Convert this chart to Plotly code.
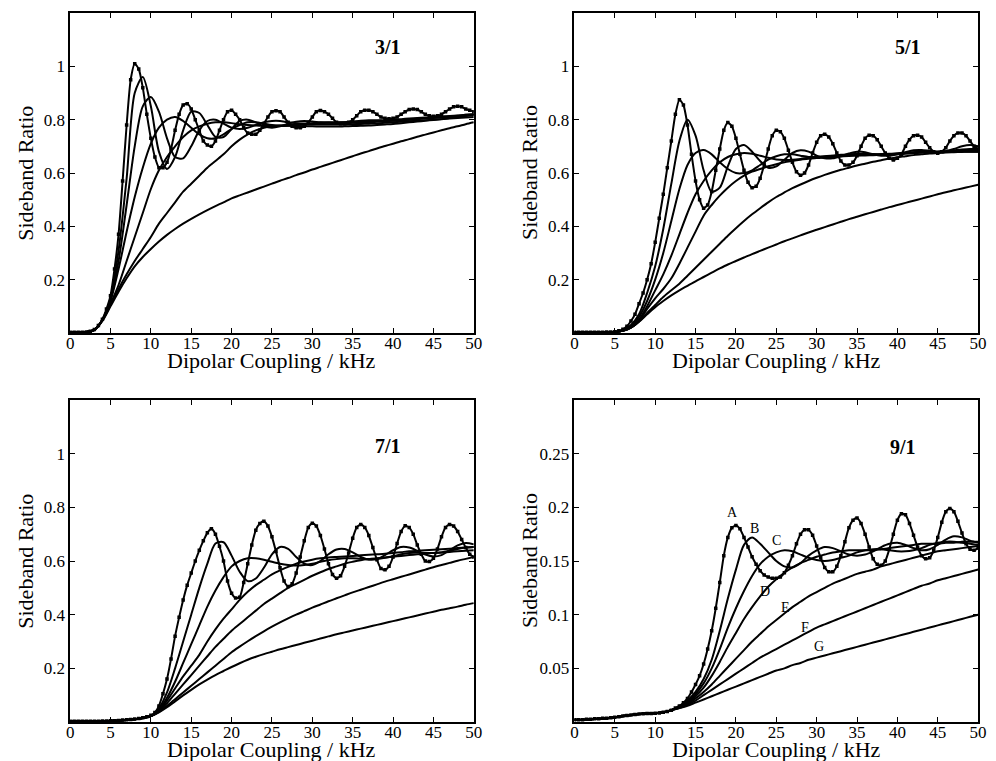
import plotly.graph_objects as go

# ---------------- data ----------------
KHZ = list(range(51))                      # 1 kHz grid for curves B-G
KHZ_HALF = [k / 2 for k in range(101)]     # 0.5 kHz grid for curve A (with markers)
X_TICKS = [0, 5, 10, 15, 20, 25, 30, 35, 40, 45, 50]
CURVE_NAMES = ["A", "B", "C", "D", "E", "F", "G"]

# ---- 3/1 ----
A31 = [0.003, 0.003, 0.003, 0.003, 0.004, 0.007, 0.013, 0.028, 0.052, 0.09,
       0.14, 0.24, 0.37, 0.57, 0.78, 0.95, 1.01, 0.99, 0.92, 0.82,
       0.73, 0.66, 0.62, 0.62, 0.64, 0.69, 0.76, 0.82, 0.855, 0.86,
       0.84, 0.80, 0.76, 0.72, 0.705, 0.70, 0.72, 0.76, 0.80, 0.83,
       0.835, 0.82, 0.80, 0.77, 0.75, 0.745, 0.745, 0.76, 0.785, 0.81,
       0.83, 0.833, 0.83, 0.81, 0.79, 0.775, 0.77, 0.77, 0.775, 0.79,
       0.81, 0.83, 0.834, 0.83, 0.82, 0.805, 0.79, 0.785, 0.785, 0.79,
       0.80, 0.815, 0.83, 0.835, 0.835, 0.83, 0.82, 0.81, 0.805, 0.803,
       0.805, 0.81, 0.82, 0.83, 0.838, 0.84, 0.838, 0.83, 0.82, 0.815,
       0.813, 0.815, 0.82, 0.83, 0.84, 0.848, 0.85, 0.848, 0.84, 0.835,
       0.83]
B31 = [0.003, 0.003, 0.004, 0.012, 0.05, 0.13, 0.31, 0.58, 0.90, 0.96,
       0.85, 0.68, 0.615, 0.66, 0.76, 0.83, 0.825, 0.78, 0.735, 0.735,
       0.765, 0.795, 0.80, 0.79, 0.775, 0.77, 0.775, 0.785, 0.792, 0.795,
       0.793, 0.79, 0.788, 0.788, 0.79, 0.793, 0.796, 0.798, 0.798, 0.797,
       0.797, 0.798, 0.80, 0.803, 0.806, 0.808, 0.81, 0.812, 0.815, 0.818,
       0.82]
C31 = [0.003, 0.003, 0.004, 0.012, 0.05, 0.125, 0.27, 0.48, 0.70, 0.85,
       0.885, 0.83, 0.73, 0.66, 0.655, 0.70, 0.76, 0.795, 0.80, 0.785,
       0.77, 0.765, 0.77, 0.78, 0.79, 0.795, 0.795, 0.79, 0.787, 0.786,
       0.787, 0.789, 0.79, 0.79, 0.79, 0.79, 0.791, 0.793, 0.795, 0.797,
       0.80, 0.802, 0.804, 0.806, 0.808, 0.81, 0.812, 0.814, 0.816, 0.818,
       0.82]
D31 = [0.003, 0.003, 0.004, 0.012, 0.05, 0.12, 0.24, 0.38, 0.51, 0.62,
       0.71, 0.77, 0.80, 0.81, 0.795, 0.77, 0.745, 0.73, 0.73, 0.745,
       0.765, 0.78, 0.79, 0.79, 0.785, 0.78, 0.777, 0.777, 0.779, 0.782,
       0.785, 0.787, 0.788, 0.788, 0.788, 0.788, 0.789, 0.79, 0.792, 0.794,
       0.796, 0.798, 0.80, 0.802, 0.804, 0.806, 0.808, 0.81, 0.812, 0.815,
       0.818]
E31 = [0.003, 0.003, 0.004, 0.012, 0.048, 0.11, 0.18, 0.27, 0.36, 0.45,
       0.54, 0.61, 0.66, 0.70, 0.735, 0.76, 0.775, 0.785, 0.79, 0.79,
       0.787, 0.783, 0.78, 0.778, 0.777, 0.777, 0.777, 0.777, 0.776, 0.775,
       0.775, 0.774, 0.774, 0.774, 0.775, 0.776, 0.777, 0.778, 0.78, 0.782,
       0.784, 0.787, 0.79, 0.793, 0.796, 0.799, 0.802, 0.806, 0.81, 0.814,
       0.818]
F31 = [0.003, 0.003, 0.004, 0.012, 0.047, 0.105, 0.165, 0.22, 0.27, 0.315,
       0.36, 0.41, 0.45, 0.49, 0.53, 0.56, 0.59, 0.62, 0.645, 0.67,
       0.70, 0.725, 0.745, 0.76, 0.77, 0.775, 0.778, 0.78, 0.781, 0.782,
       0.782, 0.782, 0.782, 0.782, 0.782, 0.783, 0.784, 0.785, 0.786, 0.788,
       0.79, 0.792, 0.794, 0.796, 0.798, 0.80, 0.802, 0.804, 0.806, 0.808,
       0.81]
G31 = [0.003, 0.003, 0.004, 0.011, 0.045, 0.10, 0.155, 0.205, 0.25, 0.285,
       0.315, 0.343, 0.368, 0.39, 0.41, 0.428, 0.445, 0.461, 0.476, 0.49,
       0.505, 0.516, 0.527, 0.538, 0.549, 0.56, 0.571, 0.581, 0.592, 0.602,
       0.613, 0.623, 0.633, 0.643, 0.653, 0.663, 0.673, 0.682, 0.692, 0.701,
       0.71, 0.719, 0.727, 0.736, 0.744, 0.752, 0.76, 0.768, 0.775, 0.783,
       0.79]

# ---- 5/1 ----
A51 = [0.003, 0.003, 0.003, 0.003, 0.003, 0.003, 0.003, 0.003, 0.004, 0.004,
       0.005, 0.008, 0.014, 0.025, 0.045, 0.07, 0.11, 0.15, 0.20, 0.26,
       0.34, 0.43, 0.52, 0.62, 0.72, 0.82, 0.875, 0.855, 0.78, 0.67,
       0.57, 0.50, 0.468, 0.48, 0.53, 0.61, 0.69, 0.76, 0.789, 0.775,
       0.73, 0.67, 0.61, 0.565, 0.545, 0.55, 0.58, 0.63, 0.69, 0.74,
       0.76, 0.755, 0.73, 0.685, 0.64, 0.605, 0.592, 0.60, 0.63, 0.675,
       0.715, 0.74, 0.745, 0.735, 0.71, 0.675, 0.645, 0.63, 0.63, 0.64,
       0.665, 0.70, 0.73, 0.742, 0.74, 0.725, 0.70, 0.675, 0.655, 0.649,
       0.655, 0.67, 0.70, 0.725, 0.74, 0.742, 0.735, 0.715, 0.695, 0.68,
       0.674, 0.68, 0.695, 0.72, 0.74, 0.75, 0.75, 0.74, 0.72, 0.70,
       0.69]
B51 = [0.003, 0.003, 0.003, 0.003, 0.003, 0.004, 0.01, 0.03, 0.07, 0.15,
       0.25, 0.39, 0.56, 0.72, 0.80, 0.74, 0.61, 0.53, 0.545, 0.625,
       0.69, 0.705, 0.68, 0.645, 0.62, 0.625, 0.65, 0.675, 0.685, 0.68,
       0.665, 0.655, 0.655, 0.663, 0.673, 0.68, 0.678, 0.67, 0.665, 0.665,
       0.67, 0.678, 0.685, 0.686, 0.683, 0.68, 0.682, 0.69, 0.70, 0.705,
       0.70]
C51 = [0.003, 0.003, 0.003, 0.003, 0.003, 0.004, 0.009, 0.025, 0.06, 0.12,
       0.20, 0.30, 0.42, 0.54, 0.63, 0.675, 0.686, 0.67, 0.64, 0.615,
       0.60, 0.60, 0.61, 0.63, 0.65, 0.663, 0.67, 0.67, 0.665, 0.66,
       0.66, 0.662, 0.665, 0.668, 0.67, 0.672, 0.672, 0.671, 0.67, 0.67,
       0.672, 0.675, 0.678, 0.68, 0.68, 0.68, 0.682, 0.685, 0.688, 0.69,
       0.69]
D51 = [0.003, 0.003, 0.003, 0.003, 0.003, 0.004, 0.008, 0.022, 0.05, 0.10,
       0.16, 0.22, 0.29, 0.37, 0.45, 0.52, 0.57, 0.61, 0.64, 0.66,
       0.67, 0.675, 0.672, 0.665, 0.657, 0.651, 0.649, 0.65, 0.653, 0.657,
       0.66, 0.663, 0.665, 0.667, 0.668, 0.669, 0.67, 0.67, 0.671, 0.672,
       0.674, 0.676, 0.678, 0.68, 0.68, 0.68, 0.681, 0.682, 0.683, 0.684,
       0.685]
E51 = [0.003, 0.003, 0.003, 0.003, 0.003, 0.004, 0.008, 0.02, 0.045, 0.09,
       0.13, 0.165, 0.205, 0.26, 0.32, 0.38, 0.44, 0.48, 0.515, 0.545,
       0.57, 0.59, 0.605, 0.615, 0.625, 0.633, 0.64, 0.645, 0.65, 0.653,
       0.656, 0.658, 0.66, 0.662, 0.664, 0.665, 0.666, 0.667, 0.668, 0.669,
       0.67, 0.672, 0.674, 0.676, 0.678, 0.679, 0.68, 0.68, 0.68, 0.68,
       0.68]
F51 = [0.003, 0.003, 0.003, 0.003, 0.003, 0.004, 0.008, 0.02, 0.043, 0.075,
       0.105, 0.135, 0.16, 0.185, 0.215, 0.245, 0.275, 0.305, 0.335, 0.365,
       0.393, 0.42, 0.445, 0.468, 0.49, 0.51, 0.527, 0.543, 0.557, 0.57,
       0.582, 0.593, 0.603, 0.612, 0.62, 0.628, 0.635, 0.642, 0.648, 0.654,
       0.659, 0.663, 0.667, 0.67, 0.673, 0.675, 0.677, 0.678, 0.679, 0.68,
       0.68]
G51 = [0.003, 0.003, 0.003, 0.003, 0.003, 0.004, 0.008, 0.02, 0.042, 0.07,
       0.097, 0.12, 0.141, 0.16, 0.177, 0.194, 0.21, 0.226, 0.242, 0.257,
       0.27, 0.283, 0.296, 0.308, 0.32, 0.332, 0.344, 0.355, 0.366, 0.377,
       0.387, 0.397, 0.407, 0.417, 0.427, 0.436, 0.445, 0.454, 0.463, 0.472,
       0.48, 0.488, 0.496, 0.504, 0.512, 0.52, 0.528, 0.535, 0.542, 0.549,
       0.556]

# ---- 7/1 ----
A71 = [0.003, 0.003, 0.003, 0.003, 0.003, 0.003, 0.003, 0.003, 0.004, 0.004,
       0.005, 0.005, 0.006, 0.007, 0.008, 0.009, 0.011, 0.013, 0.016, 0.02,
       0.025, 0.035, 0.06, 0.105, 0.16, 0.235, 0.32, 0.39, 0.455, 0.51,
       0.555, 0.60, 0.64, 0.675, 0.705, 0.72, 0.70, 0.655, 0.60, 0.525,
       0.48, 0.462, 0.465, 0.52, 0.59, 0.66, 0.715, 0.74, 0.748, 0.73,
       0.69, 0.635, 0.575, 0.525, 0.505, 0.515, 0.555, 0.615, 0.675, 0.725,
       0.741, 0.73, 0.695, 0.645, 0.59, 0.55, 0.536, 0.545, 0.58, 0.63,
       0.685, 0.725, 0.736, 0.725, 0.695, 0.65, 0.605, 0.572, 0.567, 0.58,
       0.615, 0.665, 0.71, 0.731, 0.725, 0.70, 0.66, 0.625, 0.60, 0.598,
       0.61, 0.645, 0.69, 0.725, 0.736, 0.73, 0.71, 0.68, 0.65, 0.625,
       0.615]
B71 = [0.003, 0.003, 0.003, 0.003, 0.003, 0.004, 0.005, 0.007, 0.01, 0.015,
       0.022, 0.05, 0.11, 0.20, 0.30, 0.40, 0.50, 0.59, 0.665, 0.67,
       0.62, 0.56, 0.525, 0.535, 0.575, 0.625, 0.652, 0.645, 0.615, 0.59,
       0.585, 0.60, 0.625, 0.643, 0.645, 0.632, 0.615, 0.605, 0.607, 0.622,
       0.64, 0.652, 0.65, 0.638, 0.624, 0.617, 0.622, 0.64, 0.658, 0.667,
       0.662]
C71 = [0.003, 0.003, 0.003, 0.003, 0.003, 0.004, 0.005, 0.007, 0.01, 0.015,
       0.022, 0.045, 0.09, 0.15, 0.22, 0.29, 0.36, 0.43, 0.49, 0.54,
       0.58, 0.60, 0.61, 0.61, 0.605, 0.597, 0.59, 0.585, 0.583, 0.585,
       0.59, 0.597, 0.603, 0.607, 0.61, 0.61, 0.608, 0.607, 0.608, 0.612,
       0.618, 0.625, 0.63, 0.632, 0.63, 0.63, 0.632, 0.638, 0.645, 0.65,
       0.652]
D71 = [0.003, 0.003, 0.003, 0.003, 0.003, 0.004, 0.005, 0.007, 0.01, 0.015,
       0.022, 0.042, 0.08, 0.125, 0.17, 0.21, 0.25, 0.30, 0.345, 0.385,
       0.42, 0.455, 0.485, 0.51, 0.53, 0.55, 0.565, 0.578, 0.59, 0.598,
       0.605, 0.61, 0.613, 0.615, 0.617, 0.619, 0.621, 0.623, 0.625, 0.627,
       0.63, 0.633, 0.636, 0.638, 0.64, 0.642, 0.644, 0.646, 0.648, 0.65,
       0.652]
E71 = [0.003, 0.003, 0.003, 0.003, 0.003, 0.004, 0.005, 0.007, 0.01, 0.015,
       0.022, 0.04, 0.07, 0.105, 0.14, 0.175, 0.21, 0.245, 0.28, 0.31,
       0.34, 0.365, 0.39, 0.415, 0.44, 0.46, 0.48, 0.50, 0.515, 0.53,
       0.545, 0.558, 0.57, 0.58, 0.59, 0.597, 0.603, 0.607, 0.61, 0.613,
       0.616, 0.619, 0.622, 0.625, 0.628, 0.63, 0.632, 0.634, 0.636, 0.638,
       0.64]
F71 = [0.003, 0.003, 0.003, 0.003, 0.003, 0.004, 0.005, 0.007, 0.01, 0.015,
       0.022, 0.038, 0.06, 0.085, 0.11, 0.135, 0.16, 0.185, 0.21, 0.235,
       0.26, 0.281, 0.301, 0.32, 0.338, 0.355, 0.371, 0.386, 0.40, 0.413,
       0.426, 0.438, 0.45, 0.461, 0.472, 0.483, 0.493, 0.503, 0.513, 0.523,
       0.532, 0.541, 0.55, 0.559, 0.568, 0.577, 0.585, 0.593, 0.601, 0.608,
       0.615]
G71 = [0.003, 0.003, 0.003, 0.003, 0.003, 0.004, 0.005, 0.007, 0.01, 0.015,
       0.022, 0.036, 0.055, 0.077, 0.099, 0.12, 0.14, 0.158, 0.175, 0.19,
       0.205, 0.219, 0.232, 0.243, 0.253, 0.262, 0.271, 0.279, 0.287, 0.295,
       0.303, 0.311, 0.319, 0.327, 0.334, 0.341, 0.348, 0.355, 0.362, 0.369,
       0.376, 0.383, 0.39, 0.397, 0.404, 0.411, 0.418, 0.424, 0.43, 0.437,
       0.443]

# ---- 9/1 ----
A91 = [0.002, 0.002, 0.002, 0.0025, 0.0025, 0.003, 0.003, 0.0035, 0.0035, 0.004,
       0.0045, 0.005, 0.0055, 0.006, 0.0065, 0.007, 0.0075, 0.0078, 0.008, 0.008,
       0.0082, 0.0085, 0.009, 0.0098, 0.011, 0.013, 0.015, 0.018, 0.022, 0.028,
       0.035, 0.043, 0.054, 0.068, 0.085, 0.106, 0.13, 0.155, 0.172, 0.181,
       0.183, 0.18, 0.172, 0.163, 0.154, 0.147, 0.141, 0.137, 0.135, 0.134,
       0.134, 0.135, 0.139, 0.146, 0.155, 0.166, 0.175, 0.179, 0.179, 0.174,
       0.164, 0.153, 0.144, 0.14, 0.14, 0.145, 0.155, 0.168, 0.181, 0.188,
       0.19, 0.185, 0.175, 0.163, 0.152, 0.147, 0.146, 0.15, 0.161, 0.175,
       0.188, 0.194, 0.193, 0.185, 0.174, 0.163, 0.155, 0.152, 0.153, 0.16,
       0.172, 0.186, 0.196, 0.199, 0.196, 0.187, 0.176, 0.166, 0.161, 0.16,
       0.162]
B91 = [0.002, 0.002, 0.0025, 0.003, 0.0035, 0.0045, 0.0055, 0.0065, 0.0075, 0.008,
       0.0082, 0.009, 0.011, 0.014, 0.02, 0.028, 0.04, 0.058, 0.085, 0.115,
       0.142, 0.165, 0.172, 0.166, 0.158, 0.15, 0.145, 0.144, 0.148, 0.155,
       0.16, 0.163, 0.162, 0.159, 0.156, 0.155, 0.156, 0.159, 0.163, 0.166,
       0.167, 0.165, 0.162, 0.16, 0.161, 0.165, 0.17, 0.173, 0.172, 0.169,
       0.167]
C91 = [0.002, 0.002, 0.0025, 0.003, 0.0035, 0.0045, 0.0055, 0.0065, 0.0075, 0.008,
       0.0082, 0.009, 0.011, 0.014, 0.019, 0.026, 0.036, 0.05, 0.068, 0.088,
       0.106, 0.122, 0.136, 0.147, 0.154, 0.158, 0.16, 0.159, 0.156, 0.153,
       0.151, 0.15, 0.151, 0.153, 0.155, 0.158, 0.16, 0.161, 0.161, 0.16,
       0.159, 0.159, 0.16, 0.162, 0.165, 0.167, 0.168, 0.168, 0.167, 0.166,
       0.165]
D91 = [0.002, 0.002, 0.0025, 0.003, 0.0035, 0.0045, 0.0055, 0.0065, 0.0075, 0.008,
       0.0082, 0.009, 0.011, 0.014, 0.018, 0.024, 0.032, 0.043, 0.056, 0.07,
       0.083, 0.096, 0.107, 0.117, 0.126, 0.133, 0.139, 0.144, 0.148, 0.151,
       0.154, 0.156, 0.158, 0.159, 0.16, 0.16, 0.16, 0.16, 0.161, 0.162,
       0.163, 0.164, 0.165, 0.166, 0.166, 0.166, 0.167, 0.167, 0.168, 0.168,
       0.168]
E91 = [0.002, 0.002, 0.0025, 0.003, 0.0035, 0.0045, 0.0055, 0.0065, 0.0075, 0.008,
       0.0082, 0.009, 0.011, 0.014, 0.017, 0.022, 0.028, 0.035, 0.043, 0.051,
       0.059, 0.067, 0.075, 0.082, 0.089, 0.095, 0.101, 0.107, 0.112, 0.117,
       0.121, 0.125, 0.129, 0.132, 0.135, 0.138, 0.14, 0.142, 0.145, 0.147,
       0.149, 0.151, 0.153, 0.155, 0.157, 0.159, 0.16, 0.161, 0.162, 0.163,
       0.164]
F91 = [0.002, 0.002, 0.0025, 0.003, 0.0035, 0.0045, 0.0055, 0.0065, 0.0075, 0.008,
       0.0082, 0.009, 0.011, 0.013, 0.016, 0.02, 0.025, 0.03, 0.035, 0.04,
       0.045, 0.05, 0.055, 0.06, 0.064, 0.068, 0.072, 0.076, 0.08, 0.084,
       0.088, 0.091, 0.094, 0.097, 0.1, 0.103, 0.106, 0.109, 0.112, 0.115,
       0.118, 0.121, 0.124, 0.127, 0.129, 0.132, 0.134, 0.136, 0.138, 0.14,
       0.142]
G91 = [0.002, 0.002, 0.0025, 0.003, 0.0035, 0.0045, 0.0055, 0.0065, 0.0075, 0.008,
       0.0082, 0.009, 0.011, 0.013, 0.015, 0.018, 0.021, 0.024, 0.027, 0.03,
       0.033, 0.036, 0.039, 0.042, 0.045, 0.048, 0.05, 0.053, 0.055, 0.058,
       0.06, 0.062, 0.064, 0.066, 0.068, 0.07, 0.072, 0.074, 0.076, 0.078,
       0.08, 0.082, 0.084, 0.086, 0.088, 0.09, 0.092, 0.094, 0.096, 0.098,
       0.1]

PANEL_TITLES = ["3/1", "5/1", "7/1", "9/1"]
Y_TICKS_BIG = [0.2, 0.4, 0.6, 0.8, 1.0]
Y_TICKTEXT_BIG = ["0.2", "0.4", "0.6", "0.8", "1"]
Y_TICKS_SMALL = [0.05, 0.1, 0.15, 0.2, 0.25]
Y_TICKTEXT_SMALL = ["0.05", "0.1", "0.15", "0.2", "0.25"]

# curve labels in the 9/1 panel (data coordinates)
LABEL_X_91 = [19.56, 22.25, 25.06, 23.6, 26.2, 28.5, 30.3]
LABEL_Y_91 = [0.1948, 0.180, 0.1687, 0.1217, 0.1067, 0.0881, 0.0708]

# ---------------- figure ----------------
W, H = 996, 761
FONT = "Liberation Serif, Times New Roman, serif"

def px_x(p):
    return p / W

def px_y(p):
    return 1 - p / H

panels = [
    dict(series=[A31, B31, C31, D31, E31, F31, G31], yr=[0, 1.2], tv=Y_TICKS_BIG, tt=Y_TICKTEXT_BIG,
         xd=[67, 476], yd=[13, 333], title_xy=(389, 47)),
    dict(series=[A51, B51, C51, D51, E51, F51, G51], yr=[0, 1.2], tv=Y_TICKS_BIG, tt=Y_TICKTEXT_BIG,
         xd=[578, 987], yd=[13, 333], title_xy=(916, 47)),
    dict(series=[A71, B71, C71, D71, E71, F71, G71], yr=[0, 1.2], tv=Y_TICKS_BIG, tt=Y_TICKTEXT_BIG,
         xd=[67, 476], yd=[400, 722], title_xy=(389, 446)),
    dict(series=[A91, B91, C91, D91, E91, F91, G91], yr=[0, 0.3], tv=Y_TICKS_SMALL, tt=Y_TICKTEXT_SMALL,
         xd=[578, 987], yd=[400, 722], title_xy=(911, 447)),
]

fig = go.Figure()
annotations = []
layout_axes = {}

for i, p in enumerate(panels):
    n = "" if i == 0 else str(i + 1)
    xa, ya = "x" + n, "y" + n
    for j, (name, vals) in enumerate(zip(CURVE_NAMES, p["series"])):
        if j == 0:
            fig.add_trace(go.Scatter(
                x=KHZ_HALF, y=vals, xaxis=xa, yaxis=ya, name=name,
                mode="lines+markers",
                line=dict(color="black", width=2, shape="spline", smoothing=0.6),
                marker=dict(symbol="square", size=3.5, color="black"),
                showlegend=False, hoverinfo="skip"))
        else:
            fig.add_trace(go.Scatter(
                x=KHZ, y=vals, xaxis=xa, yaxis=ya, name=name,
                mode="lines",
                line=dict(color="black", width=2, shape="spline", smoothing=0.8),
                showlegend=False, hoverinfo="skip"))
    common = dict(showline=True, linecolor="black", linewidth=1.6, mirror="ticks",
                  ticks="inside", ticklen=5, tickwidth=1.3, tickcolor="black",
                  showgrid=False, zeroline=False,
                  tickfont=dict(family=FONT, size=17, color="black"))
    layout_axes["xaxis" + n] = dict(
        domain=[px_x(p["xd"][0]), px_x(p["xd"][1])], range=[0, 50], anchor=ya,
        tickvals=X_TICKS, ticktext=[str(t) for t in X_TICKS], ticklabelstandoff=-6, **common)
    layout_axes["yaxis" + n] = dict(
        domain=[px_y(p["yd"][1]), px_y(p["yd"][0])], range=p["yr"], anchor=xa,
        tickvals=p["tv"], ticktext=p["tt"], **common)
    # panel title
    annotations.append(dict(text="<b>%s</b>" % PANEL_TITLES[i], xref="paper", yref="paper",
                            x=px_x(p["title_xy"][0]), y=px_y(p["title_xy"][1]),
                            xanchor="center", yanchor="middle", showarrow=False,
                            font=dict(family=FONT, size=20, color="black")))
    # axis titles
    cx = (p["xd"][0] + p["xd"][1]) / 2
    annotations.append(dict(text="Dipolar Coupling / kHz", xref="paper", yref="paper",
                            x=px_x(cx), y=px_y(p["yd"][1] + 27), xanchor="center", yanchor="middle",
                            showarrow=False, font=dict(family=FONT, size=22, color="black")))
    cy = (p["yd"][0] + p["yd"][1]) / 2
    annotations.append(dict(text="Sideband Ratio", xref="paper", yref="paper",
                            x=px_x(p["xd"][0] - 46), y=px_y(cy), xanchor="center", yanchor="middle",
                            textangle=-90, showarrow=False,
                            font=dict(family=FONT, size=22, color="black")))

for name, lx, ly in zip(CURVE_NAMES, LABEL_X_91, LABEL_Y_91):
    annotations.append(dict(text=name, x=lx, y=ly, xref="x4", yref="y4", showarrow=False,
                            xanchor="center", yanchor="middle",
                            font=dict(family=FONT, size=14, color="black")))

fig.update_layout(width=W, height=H, margin=dict(l=0, r=0, t=0, b=0),
                  paper_bgcolor="white", plot_bgcolor="white",
                  annotations=annotations, **layout_axes)

fig.write_html("out.html", config={"displayModeBar": False},
               post_script="document.body.style.margin='0px';document.body.style.overflow='hidden';")
